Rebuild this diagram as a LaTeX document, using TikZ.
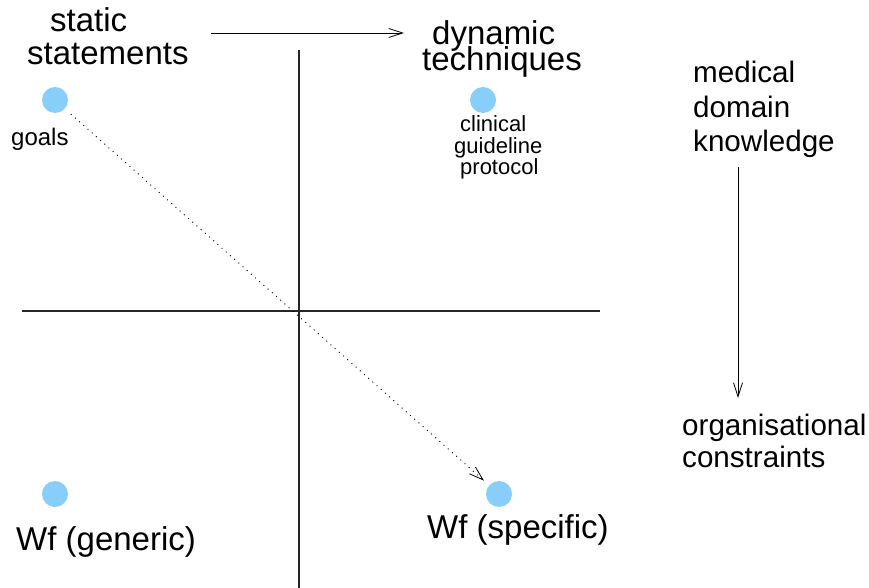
\documentclass[tikz,border=0pt]{standalone}
\usepackage{fontspec}
\setmainfont{Liberation Sans}
\usetikzlibrary{arrows.meta}
\definecolor{dotblue}{RGB}{135,206,250}
\begin{document}
\begin{tikzpicture}[x=1pt,y=-1pt,
  big/.style={anchor=base west,inner sep=0pt,font=\fontsize{33}{33}\selectfont},
  mid/.style={anchor=base west,inner sep=0pt,font=\fontsize{29.6}{29.6}\selectfont},
  small/.style={anchor=base west,inner sep=0pt,font=\fontsize{22}{22}\selectfont},
  dot/.style={circle,fill=dotblue,draw=none,minimum size=26pt,inner sep=0pt},
  axis/.style={line width=1.1pt,black!85},
  barb/.style={-{Straight Barb[length=14pt,width=9pt,line width=0.8pt]},line width=0.9pt}
]
\useasboundingbox (0,0) rectangle (869,588);

% axes
\coordinate (xl) at (22,311);
\coordinate (xr) at (600,311);
\coordinate (yt) at (299,50);
\coordinate (yb) at (299,588);
\draw[axis] (xl) -- (xr);
\draw[axis] (yt) -- (yb);

% quadrant markers
\node[dot] (goalsdot) at (55,100) {};
\node[dot] (dyndot) at (483,100) {};
\node[dot] (gendot) at (55,494) {};
\node[dot] (specdot) at (499,494) {};

% labels
\node[big] (static) at (50,32) {static};
\node[big] (statements) at (27,65) {statements};
\node[big,text depth=0pt] (dynamic) at (432,45) {dynamic};
\node[big] (techniques) at (422,71) {techniques};
\node[mid] (medical) at (693,83) {medical};
\node[mid] (domain) at (693,118) {domain};
\node[mid] (knowledge) at (693,152) {knowledge};
\node[mid] (organisational) at (682,435) {organisational};
\node[mid] (constraints) at (682,467) {constraints};
\node[anchor=base west,inner sep=0pt,font=\fontsize{24}{24}\selectfont] (goals) at (11,146) {goals};
\node[small] (clinical) at (460,132) {clinical};
\node[small] (guideline) at (454,154) {guideline};
\node[small] (protocol) at (460,175) {protocol};
\node[big] (generic) at (16,550) {Wf (generic)};
\node[big] (specific) at (427,538) {Wf (specific)};

% arrows
\coordinate (sdA) at (211,33);
\coordinate (sdB) at (404,33);
\draw[barb] (sdA) -- (sdB);
\coordinate (mkA) at (738,167);
\coordinate (mkB) at (738,398);
\draw[barb] (mkA) -- (mkB);
\draw[barb,dash pattern=on 1pt off 4.6pt,shorten <=8pt,shorten >=7pt] (goalsdot) -- (specdot);
\end{tikzpicture}
\end{document}
